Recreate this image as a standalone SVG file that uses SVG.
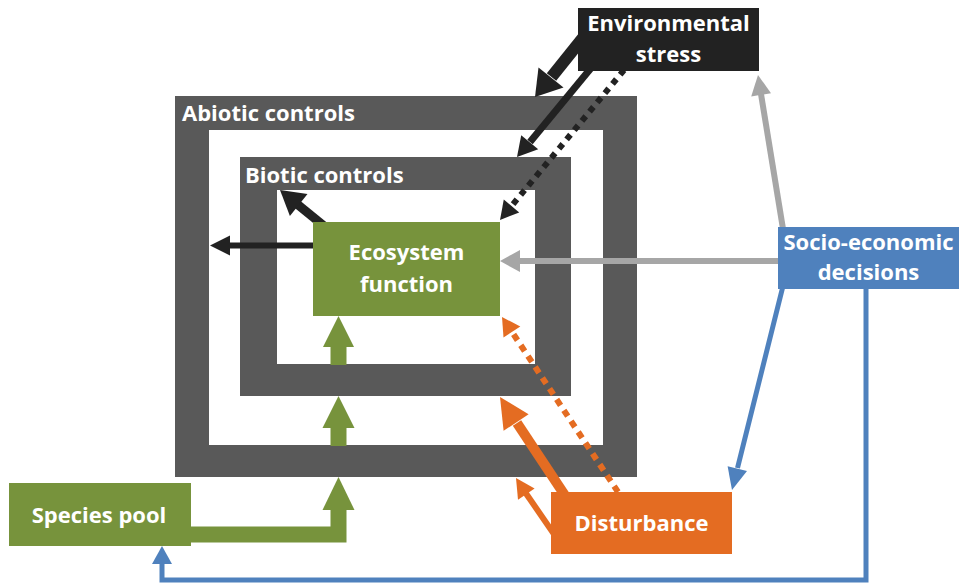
<svg xmlns="http://www.w3.org/2000/svg" width="962" height="585" viewBox="0 0 962 585">
<style>
.lbl{font-family:"Open Sans","Liberation Sans",sans-serif;font-weight:700;font-size:22px;fill:#ffffff}
.mid{text-anchor:middle}
.frame{fill:#595959}
.hole{fill:#ffffff}
.blk{stroke:#222222;fill:none}
.gry{stroke:#a6a6a6;fill:none}
.blu{stroke:#4f81bd;fill:none}
.grn{stroke:#77933c;fill:none}
.org{stroke:#e46c22;fill:none}
.hb{fill:#222222}.hg{fill:#a6a6a6}.hu{fill:#4f81bd}.hn{fill:#77933c}.ho{fill:#e46c22}
</style>
<rect width="962" height="585" fill="#ffffff"/>
<g id="abiotic-controls">
<rect class="frame" x="175" y="96" width="462" height="381"/>
<rect class="hole" x="209" y="130" width="394" height="315"/>
<text class="lbl" x="182" y="121">Abiotic controls</text>
</g>
<g id="biotic-controls">
<rect class="frame" x="240" y="157" width="331" height="239"/>
<rect class="hole" x="277" y="190" width="258" height="174"/>
<text class="lbl" x="245" y="183">Biotic controls</text>
</g>
<g id="connectors">
<!-- env stress -> abiotic -->
<line class="blk" x1="590" y1="29" x2="551.5" y2="77" stroke-width="12"/>
<polygon class="hb" points="535,97 563.5,87.6 538.5,67.4"/>
<!-- env stress -> biotic -->
<line class="blk" x1="596" y1="62" x2="530" y2="142" stroke-width="7"/>
<polygon class="hb" points="517,157 538.2,149.3 521.2,135.3"/>
<!-- env stress dotted -> ecosystem -->
<line class="blk" x1="624" y1="70" x2="511.5" y2="206" stroke-width="6" stroke-dasharray="6 6"/>
<polygon class="hb" points="500,220 519.2,212.4 503.8,199.6"/>
<!-- socio -> ecosystem -->
<line class="gry" x1="790" y1="261" x2="519" y2="261" stroke-width="6"/>
<polygon class="hg" points="500,261 520,250 520,272"/>
<!-- socio -> env stress -->
<line class="gry" x1="784" y1="235" x2="761" y2="94" stroke-width="6"/>
<polygon class="hg" points="758,75 751.2,96.4 771,93.2"/>
<!-- socio -> disturbance -->
<line class="blu" x1="784" y1="282" x2="737.5" y2="468" stroke-width="5"/>
<polygon class="hu" points="732,490 727.6,466.3 747,471.1"/>
<!-- socio -> species pool -->
<polyline class="blu" points="866,285 866,580 162,580 162,562" stroke-width="5"/>
<polygon class="hu" points="162,546 152,564 172,564"/>
<!-- species pool -> abiotic -->
<polyline class="grn" points="185,534.5 338.5,534.5 338.5,509" stroke-width="16"/>
<polygon class="hn" points="338.5,477 322.5,510 354.5,510"/>
<!-- abiotic -> biotic -->
<line class="grn" x1="338.5" y1="446" x2="338.5" y2="427" stroke-width="16"/>
<polygon class="hn" points="338.5,396 322.5,428 354.5,428"/>
<!-- biotic -> ecosystem -->
<line class="grn" x1="338.5" y1="365" x2="338.5" y2="346" stroke-width="16"/>
<polygon class="hn" points="338.5,316 323,347 354,347"/>
<!-- ecosystem -> abiotic -->
<line class="blk" x1="315" y1="245.5" x2="229" y2="245.5" stroke-width="6"/>
<polygon class="hb" points="210,245.5 230,235.5 230,255.5"/>
<!-- ecosystem -> biotic -->
<line class="blk" x1="324" y1="226" x2="297" y2="204" stroke-width="9"/>
<polygon class="hb" points="280,190 289.9,216 307.5,194"/>
<!-- disturbance dotted -> ecosystem -->
<line class="org" x1="618" y1="492" x2="512" y2="332" stroke-width="6" stroke-dasharray="7 6"/>
<polygon class="ho" points="502,317 503.5,337.5 520.3,326.5"/>
<!-- disturbance -> biotic -->
<line class="org" x1="566" y1="497" x2="517" y2="423" stroke-width="10"/>
<polygon class="ho" points="500,397 503.6,430.8 528.6,414.2"/>
<!-- disturbance -> abiotic -->
<line class="org" x1="556" y1="537" x2="525" y2="492" stroke-width="6"/>
<polygon class="ho" points="516,478 518,499.8 534.6,488.6"/>
</g>
<g id="environmental-stress">
<rect x="578" y="8" width="181" height="63" fill="#222222"/>
<text class="lbl mid" x="668.5" y="31">Environmental</text>
<text class="lbl mid" x="668.5" y="62">stress</text>
</g>
<g id="ecosystem-function">
<rect x="313" y="222" width="187" height="94" fill="#77933c"/>
<text class="lbl mid" x="406.5" y="260">Ecosystem</text>
<text class="lbl mid" x="406.5" y="292">function</text>
</g>
<g id="socio-economic-decisions">
<rect x="778" y="227" width="181" height="62" fill="#4f81bd"/>
<text class="lbl mid" x="868.5" y="250">Socio-economic</text>
<text class="lbl mid" x="868.5" y="280">decisions</text>
</g>
<g id="disturbance">
<rect x="551" y="492" width="181" height="62" fill="#e46c22"/>
<text class="lbl mid" x="641.5" y="531">Disturbance</text>
</g>
<g id="species-pool">
<rect x="9" y="483" width="182" height="63" fill="#77933c"/>
<text class="lbl mid" x="99" y="523">Species pool</text>
</g>
</svg>
